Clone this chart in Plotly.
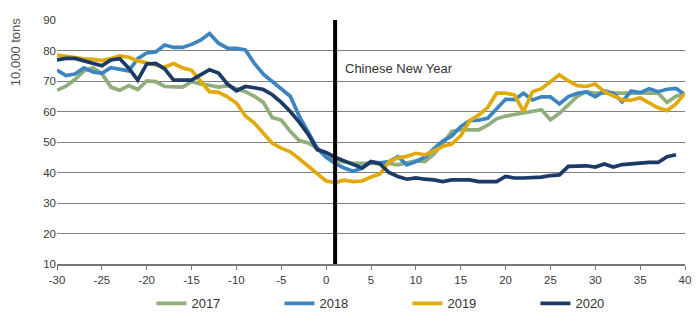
import plotly.graph_objects as go

days = list(range(-30, 41))

y2017 = [67, 68.3, 70.5, 73.3, 74.3, 72.5, 68, 67, 68.5, 67.2,
         70, 69.8, 68.2, 68, 68, 69.8, 69, 68.6, 68, 68.5,
         67.5, 66.5, 65, 63, 58, 57.2, 53.5, 50.5, 49.7, 48,
         45.5, 44, 43.5, 43, 43, 43, 43, 43, 42.5, 43,
         43.8, 43.6, 46, 49.5, 53.5, 54, 54, 54, 55.5, 57.6,
         58.5, 59, 59.5, 60, 60.6, 57.3, 59.4, 62.2, 65, 66.5,
         66, 66, 66, 66, 66, 66, 66, 66, 63, 65, 66]

y2018 = [73.6, 71.8, 72.3, 74.3, 73, 72.5, 74.4, 73.8, 73.3, 77.3,
         79.2, 79.5, 81.8, 81, 81, 82, 83.4, 85.6, 82.4, 80.8,
         80.7, 80.2, 75.8, 72.2, 69.8, 67.6, 65, 58.5, 53.4, 48,
         45, 43, 41.5, 40.4, 41.4, 43.5, 43.2, 43.6, 45.2, 42.5,
         43.6, 45, 47.8, 50.3, 52, 55, 57, 57.2, 57.8, 61,
         64, 63.9, 66, 63.8, 64.8, 64.8, 62.5, 64.9, 66, 66.4,
         64.9, 66.7, 66, 63.2, 66.7, 66.2, 67.5, 66.5, 67.3, 67.6, 65.5]

y2019 = [78.5, 78, 77.6, 77.3, 77.1, 76.7, 77.4, 78.2, 77.8, 76.6,
         76, 75.3, 74.5, 75.7, 74.3, 73.5, 70, 66.5, 66.3, 64.8,
         62.8, 58.5, 56.2, 53, 49.6, 48, 46.8, 44.5, 42, 39.8,
         37.2, 36.7, 37.5, 37, 37.2, 38.5, 39.5, 43.5, 44.8, 45.3,
         46.3, 45.8, 47, 48.5, 49.3, 52, 57, 58.8, 61.3, 66,
         66, 65.4, 60, 66.5, 67.5, 69.8, 72, 70, 68.5, 68.2,
         69, 66.5, 65, 63.8, 63.7, 64.5, 62.8, 61.2, 60.3, 62.5, 66]

y2020 = [76.9, 77.4, 77.4, 76.6, 75.6, 75, 76.9, 77.3, 74.2, 70.3,
         75.6, 75.8, 74, 70.3, 70.3, 70.3, 72, 73.7, 72.6, 69,
         66.8, 68.2, 67.8, 67.2, 65.5, 63, 60, 56.5, 52.5, 47.5,
         46.6, 45, 43.8, 42.5, 41.5, 43.6, 42.8, 40, 38.7, 37.8,
         38.2, 37.8, 37.6, 37, 37.6, 37.6, 37.6, 37, 37, 37,
         38.7, 38.2, 38.2, 38.2, 38.5, 39, 39.2, 42, 42.2, 42.2,
         41.8, 42.8, 41.8, 42.6, 42.8, 43.2, 43.3, 43.3, 45.2, 45.8, None]

series = [("2017", y2017, "#8FAE7B"),
          ("2018", y2018, "#3D85C1"),
          ("2019", y2019, "#E1AA0C"),
          ("2020", y2020, "#1B3A68")]

cny_day = 1
x_ticks = list(range(-30, 41, 5))
x_labels = [str(v) for v in x_ticks]
y_ticks = list(range(10, 91, 10))

fig = go.Figure()
for name, vals, col in series:
    fig.add_trace(go.Scatter(x=days, y=vals, name=name, mode="lines",
                             line=dict(color=col, width=3.7)))

fig.add_shape(type="line", x0=cny_day, x1=cny_day, y0=10, y1=90,
              xref="x", yref="y", line=dict(color="black", width=4))
fig.add_annotation(x=1.9, y=74, xref="x", yref="y", text="Chinese New Year",
                   showarrow=False, xanchor="left", yanchor="middle",
                   font=dict(size=13, color="#333333", family="Liberation Sans, Arial"))
fig.add_annotation(x=-0.065, y=0.869, xref="paper", yref="paper", text="10,000 tons",
                   showarrow=False, textangle=-90, xanchor="center", yanchor="middle",
                   font=dict(size=13, color="#555555", family="Liberation Sans, Arial"))

fig.update_layout(
    width=700, height=334,
    margin=dict(l=57, r=9, t=20, b=70),
    paper_bgcolor="white", plot_bgcolor="white",
    font=dict(family="Liberation Sans, Arial", size=11.5, color="#3a3a3a"),
    showlegend=True,
    legend=dict(orientation="h", x=0.558, xanchor="center", y=-0.10, yanchor="top",
                font=dict(size=13, color="#333333"), entrywidth=83,
                itemwidth=30),
    xaxis=dict(range=[-30, 40], tickvals=x_ticks, ticktext=x_labels, showgrid=False,
               showline=True, linecolor="#777777", linewidth=1.5,
               ticks="outside", ticklen=4, tickcolor="#777777",
               zeroline=False, fixedrange=True),
    yaxis=dict(range=[10, 90], tickvals=y_ticks, showgrid=True,
               gridcolor="#808080", gridwidth=1, zeroline=False,
               showline=False, ticks=""),
)

fig.write_html("out.html")
